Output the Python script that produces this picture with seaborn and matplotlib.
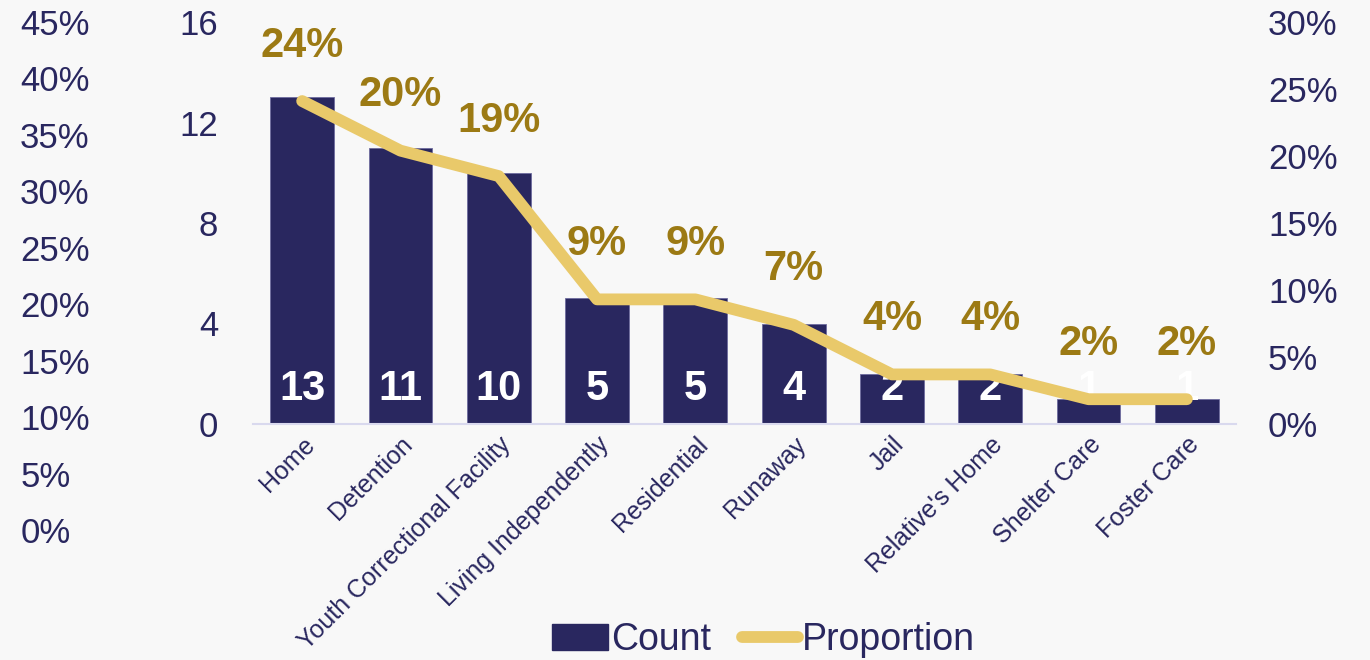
import seaborn as sns
import pandas as pd
import matplotlib.pyplot as plt
from matplotlib.patches import Patch
from matplotlib.lines import Line2D
from matplotlib.ticker import PercentFormatter

categories = ['Home', 'Detention', 'Youth Correctional Facility', 'Living Independently',
              'Residential', 'Runaway', 'Jail', "Relative's Home", 'Shelter Care', 'Foster Care']
counts = [13, 11, 10, 5, 5, 4, 2, 2, 1, 1]
proportions = [0.241, 0.204, 0.185, 0.093, 0.093, 0.074, 0.037, 0.037, 0.0185, 0.0185]
prop_labels = ['24%', '20%', '19%', '9%', '9%', '7%', '4%', '4%', '2%', '2%']

navy = '#29275F'
gold_line = '#E9C96A'
gold_text = '#9C7A14'
bg = '#F8F8F8'

df = pd.DataFrame({'Categoria': categories, 'Count': counts, 'Proportion': proportions})

sns.set_style("white")
plt.rcParams['font.family'] = ['Liberation Sans', 'DejaVu Sans']

fig = plt.figure(figsize=(13.7, 6.6), dpi=100, facecolor=bg)
ax = fig.add_axes([253 / 1370, 1 - 424 / 660, (1236 - 253) / 1370, 402 / 660])
ax.set_facecolor(bg)

# barras
sns.barplot(data=df, x='Categoria', y='Count', color=navy, width=0.65,
            saturation=1, edgecolor='#6E6C9E', linewidth=0.6, ax=ax)
ax.set_ylim(0, 16)
ax.set_xlim(-0.5, len(categories) - 0.5)
ax.set_yticks([0, 4, 8, 12, 16])
ax.tick_params(axis='y', length=0, pad=25, labelsize=25, labelcolor=navy)
ax.tick_params(axis='x', length=0, pad=6, labelsize=18, labelcolor=navy)
plt.setp(ax.get_xticklabels(), rotation=45, ha='right', rotation_mode='anchor')
ax.set_xlabel('')
ax.set_ylabel('')
for s in ['top', 'right', 'left']:
    ax.spines[s].set_visible(False)
ax.spines['bottom'].set_color('#D9D9EE')
ax.spines['bottom'].set_linewidth(1.5)

# rótulos de contagem
for i, c in enumerate(counts):
    ax.text(i, 1.4, str(c), ha='center', va='center', color='white',
            fontsize=30, fontweight='bold', zorder=3)

# linha de proporção
ax2 = ax.twinx()
ax2.plot(range(len(categories)), proportions, color=gold_line, linewidth=8.5,
         solid_capstyle='round', solid_joinstyle='round', zorder=5)
ax2.set_ylim(0, 0.30)
ax2.set_yticks([i * 0.05 for i in range(7)])
ax2.yaxis.set_major_formatter(PercentFormatter(1.0, decimals=0))
ax2.tick_params(axis='y', length=0, pad=23, labelsize=25, labelcolor=navy)
for s in ['top', 'right', 'left', 'bottom']:
    ax2.spines[s].set_visible(False)
for i, (p, lab) in enumerate(zip(proportions, prop_labels)):
    ax2.annotate(lab, (i, p), xytext=(0, 40), textcoords='offset points',
                 ha='center', va='center', color=gold_text, fontsize=30,
                 fontweight='bold')

# eixo extra à esquerda (0% - 45%)
ax0 = fig.add_axes([20 / 1370, 1 - 530 / 660, 0.0001, (530 - 22) / 660])
ax0.set_facecolor('none')
ax0.set_ylim(0, 0.45)
ax0.set_yticks([i * 0.05 for i in range(10)])
ax0.yaxis.set_major_formatter(PercentFormatter(1.0, decimals=0))
ax0.yaxis.tick_right()
ax0.tick_params(axis='y', length=0, pad=0, labelsize=25, labelcolor=navy)
ax0.set_xticks([])
for s in ax0.spines.values():
    s.set_visible(False)

# legenda
handles = [Patch(facecolor=navy, edgecolor=navy, label='Count'),
           Line2D([0], [0], color=gold_line, linewidth=8.5, solid_capstyle='round',
                  label='Proportion')]
leg = fig.legend(handles=handles, loc='center', bbox_to_anchor=(0.557, 1 - 640 / 660),
                 ncol=2, frameon=False, fontsize=27, handlelength=1.5,
                 handletextpad=0.1, columnspacing=0.8)
for t in leg.get_texts():
    t.set_color(navy)

plt.savefig('out.png', dpi=100, facecolor=bg)
